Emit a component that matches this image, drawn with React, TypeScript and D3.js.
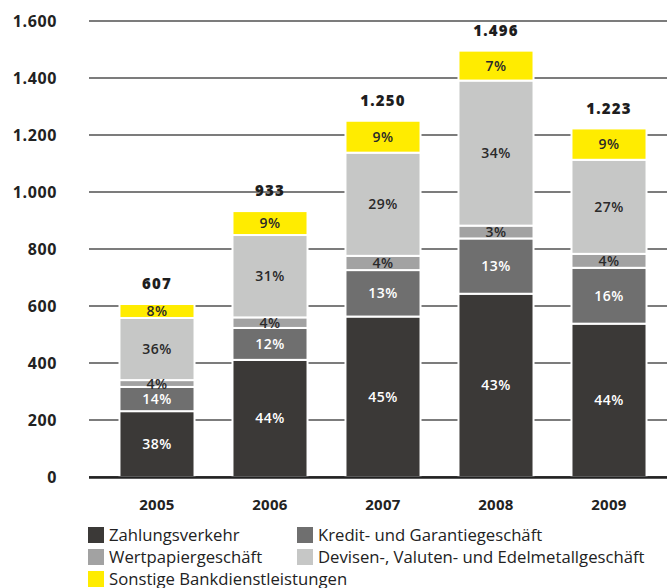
import React from "react";
import * as d3 from "d3";

const years = ["2005", "2006", "2007", "2008", "2009"];
const totals = [607, 933, 1250, 1496, 1223];
const totalLabels = ["607", "933", "1.250", "1.496", "1.223"];

const seriesNames = [
  "Zahlungsverkehr",
  "Kredit- und Garantiegeschäft",
  "Wertpapiergeschäft",
  "Devisen-, Valuten- und Edelmetallgeschäft",
  "Sonstige Bankdienstleistungen",
];
const zahlungsverkehr = [231, 411, 563, 643, 538];
const kredit = [85, 112, 163, 194, 196];
const wertpapier = [24, 37, 50, 45, 49];
const devisen = [218, 289, 362, 509, 330];
const sonstige = [49, 84, 112, 105, 110];

const pctZahlungsverkehr = ["38%", "44%", "45%", "43%", "44%"];
const pctKredit = ["14%", "12%", "13%", "13%", "16%"];
const pctWertpapier = ["4%", "4%", "4%", "3%", "4%"];
const pctDevisen = ["36%", "31%", "29%", "34%", "27%"];
const pctSonstige = ["8%", "9%", "9%", "7%", "9%"];

const yTicks = [0, 200, 400, 600, 800, 1000, 1200, 1400, 1600];

const colors = ["#3b3937", "#6f6f6f", "#a2a2a2", "#c6c7c6", "#ffec00"];
const labelColors = ["#ffffff", "#ffffff", "#2a2a2a", "#2a2a2a", "#2a2a2a"];

const seriesValues = [zahlungsverkehr, kredit, wertpapier, devisen, sonstige];
const seriesPct = [pctZahlungsverkehr, pctKredit, pctWertpapier, pctDevisen, pctSonstige];

const W = 667;
const H = 588;

const fmt = (v: number) => d3.format(",")(v).replace(/,/g, ".");

export default function App() {
  const keys = ["s0", "s1", "s2", "s3", "s4"];
  const rows = years.map((y, i) => {
    const r: any = { year: y };
    keys.forEach((k, j) => (r[k] = seriesValues[j][i]));
    return r;
  });
  const stacked = d3.stack<any>().keys(keys)(rows);

  const x = d3
    .scaleBand<string>()
    .domain(years)
    .range([100.5, 665.5])
    .paddingInner(0.336)
    .paddingOuter(0.168);
  const y = d3.scaleLinear().domain([0, 1600]).range([477, 21]);

  const font = "'Open Sans', 'DejaVu Sans', sans-serif";

  const legendItems = [
    { i: 0, x: 88, y: 527 },
    { i: 1, x: 297, y: 527 },
    { i: 2, x: 88, y: 549 },
    { i: 3, x: 297, y: 549 },
    { i: 4, x: 88, y: 571 },
  ];

  return (
    <svg
      width={W}
      height={H}
      style={{ position: "absolute", left: 0, top: 0, background: "#fff" }}
      fontFamily={font}
    >
      {/* gridlines */}
      {yTicks.map((t) => (
        <line
          key={"g" + t}
          x1={89}
          x2={667}
          y1={y(t)}
          y2={y(t)}
          stroke={t === 0 ? "#222" : "#505050"}
          strokeWidth={t === 0 ? 1.5 : 1.3}
        />
      ))}
      {/* y tick labels */}
      {yTicks.map((t) => (
        <text
          key={"t" + t}
          x={57}
          y={y(t)}
          dy="0.35em"
          textAnchor="end"
          fontSize={16}
          fontWeight={700}
          fill="#222"
          letterSpacing={0.6}
        >
          {fmt(t)}
        </text>
      ))}
      {/* bars */}
      {stacked.map((layer, li) => (
        <g key={"l" + li}>
          {layer.map((d, i) => (
            <rect
              key={i}
              x={x(years[i])!}
              width={x.bandwidth()}
              y={y(d[1])}
              height={y(d[0]) - y(d[1])}
              fill={colors[li]}
              stroke="#fff"
              strokeWidth={2}
            />
          ))}
        </g>
      ))}
      {/* baseline */}
      <line x1={89} x2={667} y1={y(0) + 0.5} y2={y(0) + 0.5} stroke="#222" strokeWidth={2.5} />
      {/* segment labels */}
      {stacked.map((layer, li) => (
        <g key={"p" + li}>
          {layer.map((d, i) => (
            <text
              key={i}
              x={x(years[i])! + x.bandwidth() / 2}
              y={(y(d[0]) + y(d[1])) / 2}
              dy="0.36em"
              textAnchor="middle"
              fontSize={14}
              fontWeight={600}
              fill={labelColors[li]}
              letterSpacing={0.4}
            >
              {seriesPct[li][i]}
            </text>
          ))}
        </g>
      ))}
      {/* totals */}
      {years.map((yr, i) => (
        <text
          key={"tot" + yr}
          x={x(yr)! + x.bandwidth() / 2}
          y={y(totals[i]) - 20}
          dy="0.35em"
          textAnchor="middle"
          fontSize={15}
          fontWeight={800}
          fill="#1e1e1e"
          letterSpacing={1.2}
        >
          {totalLabels[i]}
        </text>
      ))}
      {/* x labels */}
      {years.map((yr) => (
        <text
          key={"x" + yr}
          x={x(yr)! + x.bandwidth() / 2}
          y={505}
          dy="0.35em"
          textAnchor="middle"
          fontSize={15}
          fontWeight={700}
          fill="#222"
          letterSpacing={0.3}
        >
          {yr}
        </text>
      ))}
      {/* legend */}
      {legendItems.map((it) => (
        <g key={"lg" + it.i}>
          <rect x={it.x} y={it.y} width={16} height={16} fill={colors[it.i]} />
          <text
            x={it.x + 21}
            y={it.y + 8}
            dy="0.36em"
            fontSize={16.7}
            fontWeight={500}
            fill="#222"
          >
            {seriesNames[it.i]}
          </text>
        </g>
      ))}
    </svg>
  );
}
